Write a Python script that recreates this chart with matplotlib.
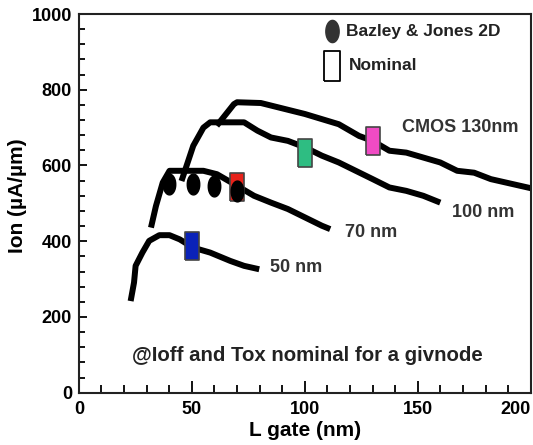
import numpy as np
import matplotlib
matplotlib.use('Agg')
import matplotlib.pyplot as plt
from matplotlib.ticker import MultipleLocator

plt.rcParams['font.family'] = ['Liberation Sans', 'DejaVu Sans']
plt.rcParams['font.weight'] = 'bold'

# curves (L gate nm, Ion uA/um)
x130 = [61, 68.6, 70, 80.5, 100, 115, 124, 130, 137.4, 144.9, 159.9, 167.4, 174.9, 182.3, 200]
y130 = [705, 762, 767, 765, 736, 709, 678, 665, 639, 634, 608, 586, 581, 564, 540]

x100 = [45.4, 50.6, 55.1, 58.1, 62.6, 73.1, 79, 85, 92.5, 100, 107.5, 115, 122.5, 130, 137.4, 144.9, 152.4, 159.9]
y100 = [559, 652, 700, 714, 714, 714, 692, 674, 665, 648, 626, 608, 586, 564, 542, 533, 520, 502]

x70 = [31.9, 34.1, 37.1, 40.1, 43.1, 55.1, 61.1, 70.1, 77.5, 85, 92.5, 100, 107.5, 111.2]
y70 = [436, 493, 555, 586, 586, 586, 577, 546, 520, 502, 485, 463, 441, 432]

x50 = [22.9, 24.4, 25.1, 28.1, 31.1, 35.6, 40.1, 44.6, 50.6, 58.1, 67, 73.1, 79.8]
y50 = [242, 291, 335, 370, 401, 416, 416, 405, 383, 370, 348, 335, 326]

# nominal points
nom_x = [50, 70, 100, 130]
nom_y = [388, 542, 634, 665]
nom_colors = ['#0a22b8', '#e8221a', '#2ebd82', '#f04bc4']

# Bazley & Jones 2D points
bj_x = [40, 50.3, 60, 70.1]
bj_y = [551, 551, 546, 533]

curve_labels = ['CMOS 130nm', '100 nm', '70 nm', '50 nm']
label_x = [168.6, 178.8, 129.2, 96.3]
label_y = [700, 476, 423, 330]

fig = plt.figure(figsize=(5.33, 4.45), dpi=100)
ax = fig.add_axes([0.148, 0.1175, 0.848, 0.851])

for xs, ys in [(x130, y130), (x100, y100), (x70, y70), (x50, y50)]:
    ax.plot(xs, ys, color='black', lw=4.3, solid_capstyle='butt', solid_joinstyle='round', zorder=2)

rect = [(-0.26, -0.5), (0.26, -0.5), (0.26, 0.5), (-0.26, 0.5), (-0.26, -0.5)]
t = np.linspace(0, 2 * np.pi, 40)
oval = list(zip(0.3 * np.cos(t), 0.5 * np.sin(t)))

for x, y, c in zip(nom_x, nom_y, nom_colors):
    ax.plot(x, y, marker=rect, markersize=20, markerfacecolor=c,
            markeredgecolor='#444444', markeredgewidth=1.2, ls='none', zorder=3)

ax.plot(bj_x, bj_y, marker=oval, markersize=15, color='black', ls='none', zorder=4)

for lab, lx, ly in zip(curve_labels, label_x, label_y):
    ax.text(lx, ly, lab, ha='center', va='center', fontsize=13, color='#333333', fontweight='bold')

# legend drawn by hand
ax.plot(112, 956, marker=oval, markersize=16, color='#333333', ls='none')
ax.text(118, 955, 'Bazley & Jones 2D', ha='left', va='center', fontsize=12.5, color='#222222', fontweight='bold')
ax.plot(112, 863, marker=rect, markersize=22, markerfacecolor='white',
        markeredgecolor='black', markeredgewidth=1.3, ls='none')
ax.text(119.5, 863, 'Nominal', ha='left', va='center', fontsize=12.5, color='#222222', fontweight='bold')

ax.text(100.9, 97, '@Ioff and Tox nominal for a givnode', ha='center', va='center',
        fontsize=14.7, color='#222222', fontweight='bold')

ax.set_xlim(0, 200)
ax.set_ylim(0, 1000)
ax.xaxis.set_major_locator(MultipleLocator(50))
ax.xaxis.set_minor_locator(MultipleLocator(10))
ax.yaxis.set_major_locator(MultipleLocator(200))
ax.yaxis.set_minor_locator(MultipleLocator(40))
ax.tick_params(axis='x', which='major', direction='in', length=9, width=1.3, labelsize=13, pad=6)
ax.tick_params(axis='x', which='minor', direction='in', length=6, width=1.3)
ax.tick_params(axis='y', which='major', direction='in', length=6, width=1.3, labelsize=13, pad=5)
ax.tick_params(axis='y', which='minor', direction='in', length=4, width=1.3)

for s in ax.spines.values():
    s.set_linewidth(1.5)
    s.set_color('#222222')

ax.set_xlabel('L gate (nm)', fontsize=15, fontweight='bold', labelpad=2)
ax.set_ylabel('Ion (µA/µm)', fontsize=15, fontweight='bold', labelpad=1)
ax.yaxis.set_label_coords(-0.115, 0.52)

fig.canvas.draw()
for tick in ax.xaxis.get_major_ticks():
    if abs(tick.get_loc() - 200) < 1e-6:
        tick.label1.set_horizontalalignment('right')

fig.savefig('out.png', dpi=100)
